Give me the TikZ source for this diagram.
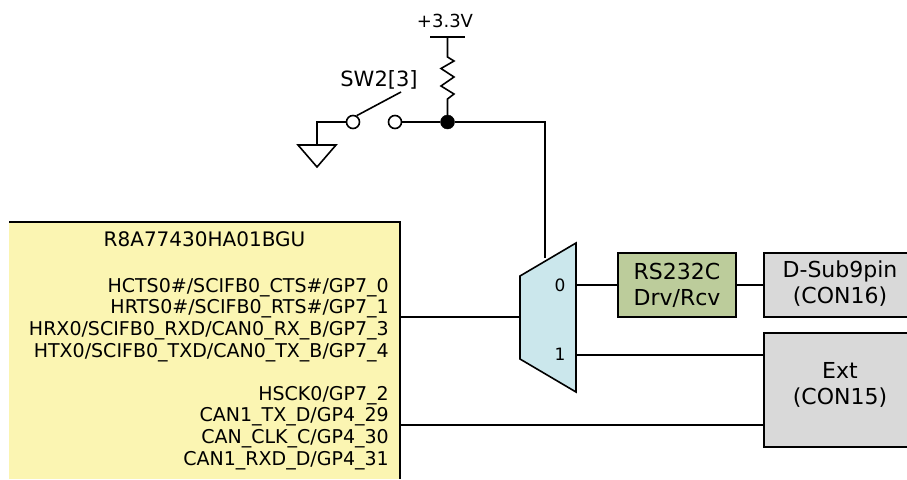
\documentclass[tikz,border=0pt]{standalone}
\usepackage{fontspec}
\setmainfont{DejaVu Sans}
\usetikzlibrary{positioning, calc}

\begin{document}
\begin{tikzpicture}[
                x=1pt, y=-1pt,
                wire/.style={draw=black, line width=1.6pt},
                block/.style={rectangle, draw=black, line width=1.6pt, align=center, font=\fontsize{22}{26}\selectfont,
                              inner sep=0pt, anchor=north west},
                lbl/.style={inner sep=0pt, align=center, font=\fontsize{18}{21.6}\selectfont},
                pad/.style={circle, draw=black, line width=1.6pt, fill=white, minimum size=13pt, inner sep=0pt},
                dot/.style={circle, draw=black, fill=black, minimum size=14pt, inner sep=0pt}
            ]
                \useasboundingbox (0,0) rectangle (907,479);

                % SoC, cut off on the left and at the bottom
                \fill[fill={rgb,255:red,251;green,245;blue,178}] (9,222) rectangle (400,479);
                \draw[wire] (9,222) -- (400,222) -- (400,479);
                \node[lbl, font=\fontsize{20}{24}\selectfont] (soc) at (204.5,239) {R8A77430HA01BGU};
                \node[lbl, align=right, anchor=north east, font=\fontsize{19}{21.6}\selectfont] (pins) at (389,278)
                    {HCTS0\#/SCIFB0\_CTS\#/GP7\_0\\
                     HRTS0\#/SCIFB0\_RTS\#/GP7\_1\\
                     HRX0/SCIFB0\_RXD/CAN0\_RX\_B/GP7\_3\\
                     HTX0/SCIFB0\_TXD/CAN0\_TX\_B/GP7\_4\\[21.6pt]
                     HSCK0/GP7\_2\\
                     CAN1\_TX\_D/GP4\_29\\
                     CAN\_CLK\_C/GP4\_30\\
                     CAN1\_RXD\_D/GP4\_31};

                % mux
                \draw[wire, line join=miter, fill={rgb,255:red,203;green,231;blue,236}] (520,276) -- (576,243) -- (576,392) -- (520,359) -- cycle;
                \node[lbl, font=\fontsize{17}{20}\selectfont] (sel0) at (560,285) {0};
                \node[lbl, font=\fontsize{17}{20}\selectfont] (sel1) at (560,354) {1};
                \coordinate (muxtop) at (545,258);
                \coordinate (muxin) at (520,317);
                \coordinate (muxa) at (576,285);
                \coordinate (muxb) at (576,355);
                \coordinate (socout) at (400,317);
                \coordinate (socext) at (400,425);

                % blocks
                \node[block, fill={rgb,255:red,188;green,204;blue,155}, minimum width=118pt, minimum height=64pt] (drv) at (617.2,252.2) {RS232C\\Drv/Rcv};
                \fill[gray!30] (764,253) rectangle (907,317);
                \fill[gray!30] (764,333) rectangle (907,447);
                \draw[wire] (907,253) -- (764,253) -- (764,317) -- (907,317);
                \draw[wire] (907,333) -- (764,333) -- (764,447) -- (907,447);
                \node[lbl, font=\fontsize{22}{26}\selectfont] (dsub) at (840,284) {D-Sub9pin\\(CON16)};
                \node[lbl, font=\fontsize{22}{26}\selectfont] (ext) at (840,385) {Ext\\(CON15)};
                \coordinate (dsubin) at (764,285);
                \coordinate (extin) at (764,355);
                \coordinate (extb) at (764,425);

                \draw[wire] (socout) -- (muxin);
                \draw[wire] (socext) -- (extb);
                \draw[wire] (muxa) -- (drv.west |- muxa);
                \draw[wire] (drv.east |- muxa) -- (dsubin);
                \draw[wire] (muxb) -- (extin);

                % pull-up and switch
                \node[lbl] (vcclbl) at (445,21) {+3.3V};
                \coordinate (vcc) at (447.5,37);
                \node[dot] (node) at (447.5,122) {};
                \node[pad] (swa) at (353,122) {};
                \node[pad] (swb) at (395,122) {};
                \node[lbl, font=\fontsize{21}{24}\selectfont] (swlbl) at (379,80) {SW2[3]};
                \draw[wire] (430,37) -- (465,37);
                \draw[wire, line join=miter] (vcc) -- (447.5,57) -- (454,61) -- (441,68.5) -- (454,77) -- (441,86) -- (454,94) -- (447.5,99) -- (node);
                \draw[wire] (swb) -- (node);
                \draw[wire] (node) -| (muxtop);
                \draw[wire] (swa.60) -- (401,92);
                \draw[wire] (swa) -| (317,145);
                \draw[wire, line join=miter] (298,145) -- (336,145) -- (317,167) -- cycle;
            \end{tikzpicture}
\end{document}
